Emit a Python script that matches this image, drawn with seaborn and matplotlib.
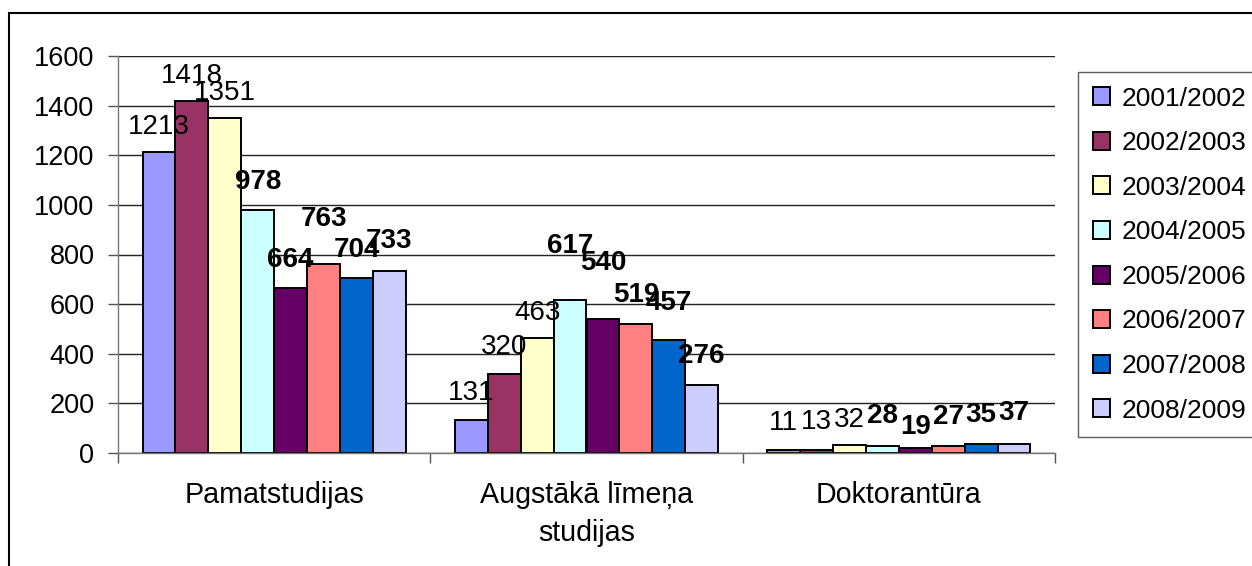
import pandas as pd
import numpy as np
import seaborn as sns
import matplotlib.pyplot as plt
from matplotlib.patches import Patch, Rectangle

programs = ["Pamatstudijas", "Augstākā līmeņa\nstudijas", "Doktorantūra"]
years = ["2001/2002", "2002/2003", "2003/2004", "2004/2005",
         "2005/2006", "2006/2007", "2007/2008", "2008/2009"]
pamat = [1213, 1418, 1351, 978, 664, 763, 704, 733]
augst = [131, 320, 463, 617, 540, 519, 457, 276]
dokt = [11, 13, 32, 28, 19, 27, 35, 37]
yticks = [0, 200, 400, 600, 800, 1000, 1200, 1400, 1600]

colors = ["#9999FF", "#993366", "#FFFFCC", "#CCFFFF",
          "#660066", "#FF8080", "#0066CC", "#CCCCFF"]
bold_from = 3  # later years have bold labels
# label height above bar top (pixels), as placed in the original
label_nudge = [[28, 28, 28, 31, 31, 48, 31, 33],
               [30, 30, 28, 57, 59, 32, 40, 32],
               [30, 31, 28, 33, 24, 32, 32, 34]]

rows = []
for p, vals in zip(programs, [pamat, augst, dokt]):
    for y, v in zip(years, vals):
        rows.append({"program": p, "year": y, "count": v})
df = pd.DataFrame(rows)

sns.set_style("white")
plt.rcParams["font.family"] = ["Liberation Sans", "DejaVu Sans"]
plt.rcParams["text.color"] = "black"
plt.rcParams["xtick.color"] = "black"
plt.rcParams["ytick.color"] = "black"

fig = plt.figure(figsize=(12.52, 5.66), dpi=100)
ax = fig.add_axes([118/1252, 1-453/566, (1055-118)/1252, (453-56)/566])

sns.barplot(data=df, x="program", y="count", hue="year", palette=colors,
            order=programs, hue_order=years, saturation=1, width=0.843,
            edgecolor="black", linewidth=1.4, legend=False, ax=ax)

ax.set_xlim(-0.5, 2.5)
ax.set_ylim(0, 1600)
ax.set_yticks(yticks)
ax.set_yticklabels([str(t) for t in yticks], fontsize=19.5)
ax.yaxis.grid(True, color="#222222", linewidth=1)
ax.set_axisbelow(True)
ax.set_xlabel("")
ax.set_ylabel("")

for s in ["top", "right"]:
    ax.spines[s].set_visible(False)
for s in ["left", "bottom"]:
    ax.spines[s].set_color("#777777")
    ax.spines[s].set_linewidth(1)

ax.tick_params(axis="y", length=7, width=1, color="#555555", labelcolor="black", pad=10, left=True)
ax.set_xticks([0, 1, 2])
ax.set_xticklabels(programs, fontsize=20.6, linespacing=1.45)
ax.set_xticks([-0.5, 0.5, 1.5, 2.5], minor=True)
ax.tick_params(axis="x", which="major", length=0, pad=20, labelcolor="black")
ax.tick_params(axis="x", which="minor", length=7, width=1, color="#555555", bottom=True)

for i, cont in enumerate(ax.containers):
    weight = "bold" if i >= bold_from else "normal"
    for j, bar in enumerate(cont):
        h = bar.get_height()
        ax.annotate(str(int(h)), (bar.get_x() + bar.get_width()/2, h),
                    xytext=(0, label_nudge[j][i] - 10), textcoords="offset pixels",
                    ha="center", va="baseline", fontsize=20, fontweight=weight,
                    color="black", annotation_clip=False)

handles = [Patch(facecolor=c, edgecolor="black", linewidth=1.4) for c in colors]
leg = fig.legend(handles, years, loc="upper left",
                 bbox_to_anchor=(1078/1252, 1-72/566), bbox_transform=fig.transFigure,
                 fontsize=19, frameon=True, fancybox=False, borderaxespad=0,
                 handlelength=0.68, handleheight=0.68, handletextpad=0.42,
                 labelspacing=0.78, borderpad=0.55)
leg.get_frame().set_edgecolor("#333333")
leg.get_frame().set_linewidth(1)

fig.patches.append(Rectangle((9/1252, -0.1), 1.2, 1-13/566+0.1, transform=fig.transFigure,
                             fill=False, edgecolor="black", linewidth=1.5))

fig.savefig("out.png", dpi=100)
